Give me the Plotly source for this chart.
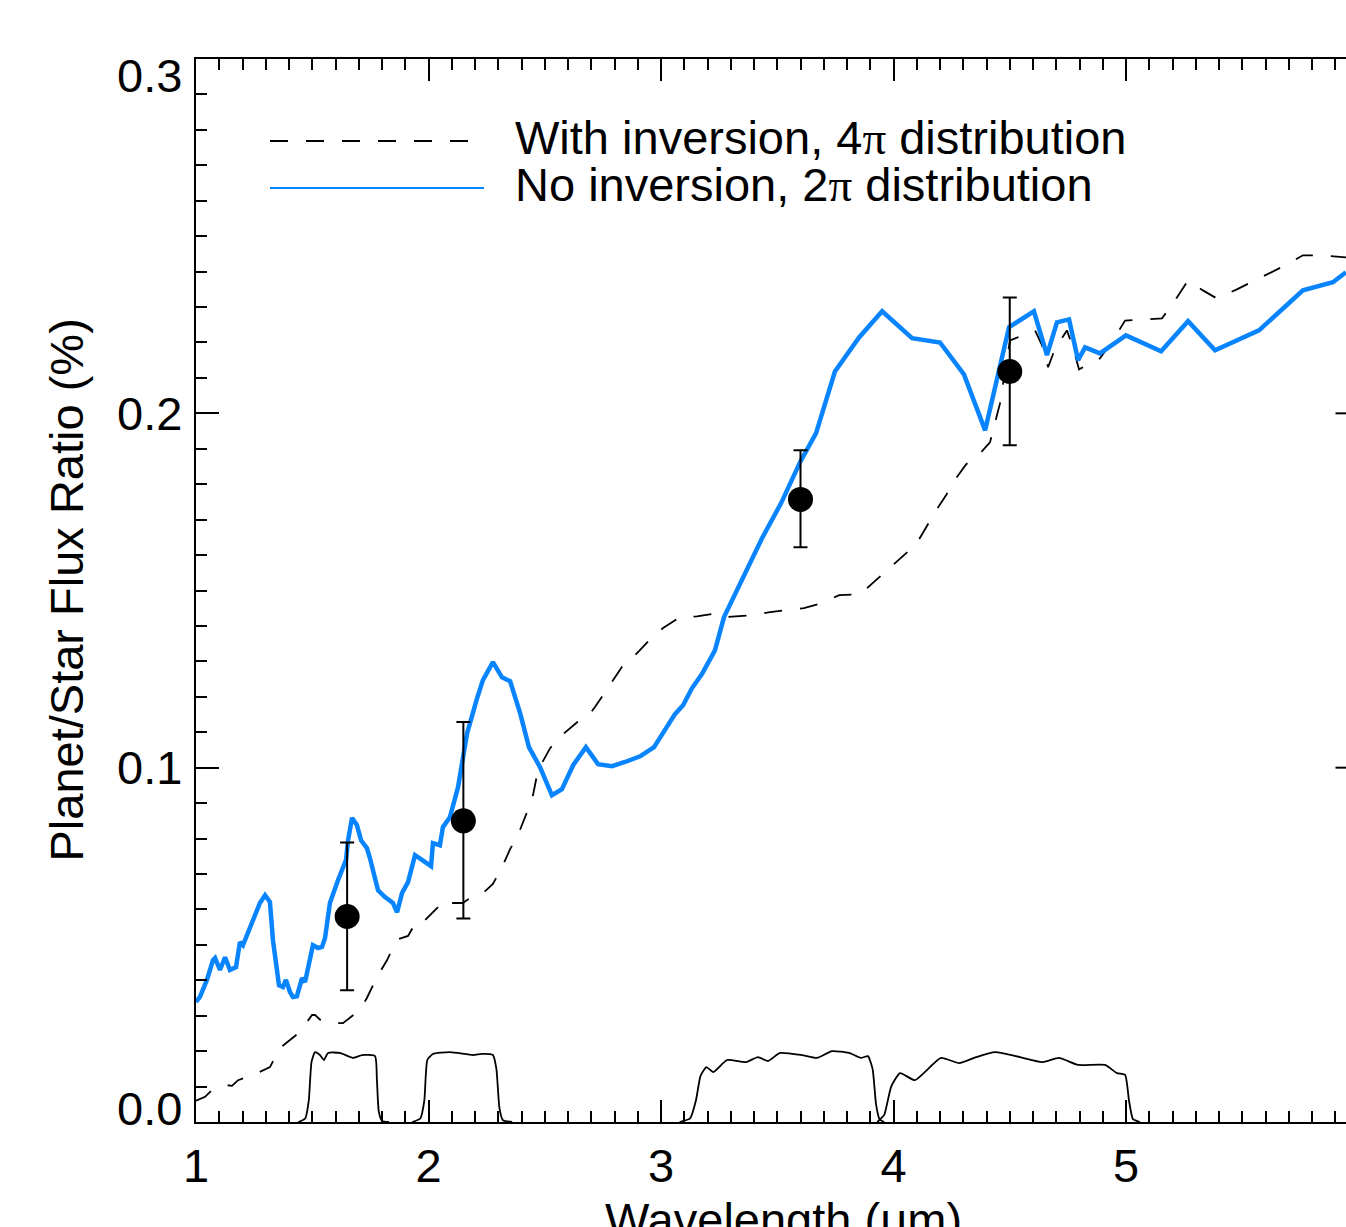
import plotly.graph_objects as go

# ---------------- data ----------------
blue_x = [1.000, 1.017, 1.047, 1.073, 1.082, 1.103, 1.125, 1.146, 1.172, 1.189, 1.202, 1.224,
          1.275, 1.297, 1.318, 1.331, 1.348, 1.357, 1.374, 1.387, 1.404, 1.417, 1.434, 1.456,
          1.469, 1.490, 1.503, 1.525, 1.542, 1.555, 1.576, 1.611, 1.632, 1.645, 1.654, 1.671,
          1.692, 1.710, 1.735, 1.748, 1.783, 1.813, 1.847, 1.865, 1.886, 1.912, 1.942, 1.985,
          2.011, 2.019, 2.049, 2.062, 2.092, 2.127, 2.148, 2.166, 2.209, 2.234, 2.277, 2.316,
          2.351, 2.394, 2.432, 2.480, 2.531, 2.574, 2.622, 2.677, 2.729, 2.789, 2.845, 2.910,
          2.970, 3.013, 3.060, 3.095, 3.133, 3.176, 3.232, 3.271, 3.353, 3.434, 3.516, 3.598,
          3.667, 3.748, 3.852, 3.951, 4.080, 4.200, 4.303, 4.394, 4.497, 4.604, 4.660, 4.703,
          4.755, 4.794, 4.824, 4.888, 5.000, 5.151, 5.267, 5.383, 5.572, 5.761, 5.890, 5.946]
blue_y = [0.0339, 0.0353, 0.0401, 0.0457, 0.0463, 0.0429, 0.0465, 0.0429, 0.0437, 0.0508, 0.0499, 0.0536,
          0.0618, 0.0640, 0.0621, 0.0513, 0.0437, 0.0386, 0.0381, 0.0401, 0.0367, 0.0353, 0.0355, 0.0406,
          0.0395, 0.0457, 0.0499, 0.0491, 0.0494, 0.0519, 0.0618, 0.0683, 0.0717, 0.0739, 0.0795, 0.0858,
          0.0838, 0.0795, 0.0773, 0.0745, 0.0654, 0.0635, 0.0618, 0.0592, 0.0646, 0.0677, 0.0753, 0.0733,
          0.0722, 0.0787, 0.0781, 0.0832, 0.0860, 0.0945, 0.1021, 0.1097, 0.1196, 0.1247, 0.1298, 0.1255,
          0.1244, 0.1154, 0.1058, 0.1001, 0.0922, 0.0939, 0.1007, 0.1058, 0.1010, 0.1004, 0.1016, 0.1032,
          0.1058, 0.1100, 0.1151, 0.1176, 0.1224, 0.1264, 0.1331, 0.1425, 0.1537, 0.1647, 0.1746, 0.1862,
          0.1944, 0.2118, 0.2214, 0.2288, 0.2212, 0.2200, 0.2110, 0.1952, 0.2243, 0.2288, 0.2164, 0.2257,
          0.2265, 0.2150, 0.2186, 0.2169, 0.2220, 0.2175, 0.2260, 0.2178, 0.2234, 0.2347, 0.2370, 0.2398]

dash_x = [1.000, 1.039, 1.069, 1.133, 1.155, 1.181, 1.254, 1.318, 1.361, 1.404, 1.447, 1.477,
          1.499, 1.512, 1.540, 1.572, 1.606, 1.632, 1.705, 1.735, 1.778, 1.822, 1.856, 1.869,
          1.912, 1.951, 1.985, 2.015, 2.049, 2.071, 2.084, 2.148, 2.178, 2.222, 2.277, 2.316,
          2.351, 2.385, 2.415, 2.445, 2.471, 2.523, 2.574, 2.639, 2.682, 2.716, 2.751, 2.794,
          2.837, 2.897, 2.961, 3.009, 3.082, 3.125, 3.155, 3.241, 3.284, 3.391, 3.469, 3.542,
          3.615, 3.692, 3.766, 3.856, 3.908, 3.976, 4.028, 4.097, 4.140, 4.183, 4.226, 4.269,
          4.312, 4.372, 4.415, 4.432, 4.458, 4.501, 4.544, 4.609, 4.639, 4.665, 4.695, 4.746,
          4.772, 4.798, 4.888, 4.944, 4.996, 5.155, 5.219, 5.267, 5.331, 5.391, 5.477, 5.619,
          5.692, 5.761, 5.834, 5.946]
dash_y = [0.0060, 0.0071, 0.0090, 0.0104, 0.0102, 0.0118, 0.0135, 0.0155, 0.0209, 0.0231, 0.0254, 0.0282,
          0.0302, 0.0302, 0.0285, 0.0279, 0.0279, 0.0279, 0.0316, 0.0350, 0.0409, 0.0457, 0.0505, 0.0516,
          0.0525, 0.0570, 0.0570, 0.0590, 0.0612, 0.0626, 0.0618, 0.0618, 0.0632, 0.0638, 0.0672, 0.0719,
          0.0770, 0.0810, 0.0860, 0.0908, 0.0993, 0.1055, 0.1092, 0.1128, 0.1142, 0.1171, 0.1205, 0.1247,
          0.1289, 0.1323, 0.1368, 0.1394, 0.1425, 0.1425, 0.1427, 0.1436, 0.1425, 0.1430, 0.1439, 0.1445,
          0.1450, 0.1464, 0.1487, 0.1489, 0.1520, 0.1560, 0.1591, 0.1630, 0.1678, 0.1726, 0.1769, 0.1817,
          0.1856, 0.1887, 0.1918, 0.1961, 0.2028, 0.2206, 0.2217, 0.2234, 0.2192, 0.2130, 0.2183, 0.2234,
          0.2186, 0.2124, 0.2155, 0.2206, 0.2262, 0.2268, 0.2327, 0.2375, 0.2347, 0.2324, 0.2350, 0.2395,
          0.2420, 0.2446, 0.2446, 0.2440]

obs_x = [1.65, 2.15, 3.6, 4.5]
obs_y = [0.058, 0.085, 0.1757, 0.2118]
obs_err_plus = [0.0209, 0.0279, 0.0139, 0.0209]
obs_err_minus = [0.0208, 0.0276, 0.0135, 0.0208]

filt_h_x = [1.440, 1.470, 1.485, 1.497, 1.512, 1.533, 1.550, 1.568, 1.619, 1.675, 1.714, 1.770, 1.778, 1.786, 1.800, 1.830]
filt_h_y = [0.0, 0.0010, 0.0060, 0.0170, 0.0197, 0.0189, 0.0175, 0.0195, 0.0195, 0.0181, 0.0189, 0.0186, 0.0120, 0.0030, 0.0003, 0.0]
filt_k_x = [1.930, 1.965, 1.982, 1.995, 2.019, 2.092, 2.191, 2.230, 2.277, 2.292, 2.305, 2.320, 2.360]
filt_k_y = [0.0, 0.0010, 0.0060, 0.0175, 0.0192, 0.0197, 0.0189, 0.0192, 0.0189, 0.0150, 0.0040, 0.0005, 0.0]
filt_36_x = [3.080, 3.125, 3.150, 3.170, 3.195, 3.225, 3.284, 3.366, 3.417, 3.460, 3.512, 3.606, 3.671, 3.735,
             3.809, 3.860, 3.890, 3.910, 3.925, 3.940, 3.960]
filt_36_y = [0.0, 0.0010, 0.0060, 0.0130, 0.0155, 0.0141, 0.0175, 0.0169, 0.0183, 0.0172, 0.0195, 0.0189, 0.0181, 0.0200,
             0.0195, 0.0181, 0.0186, 0.0150, 0.0050, 0.0008, 0.0]
filt_45_x = [3.930, 3.960, 3.990, 4.028, 4.092, 4.204, 4.282, 4.355, 4.437, 4.544, 4.639, 4.712, 4.794,
             4.910, 4.961, 4.996, 5.013, 5.030, 5.060]
filt_45_y = [0.0, 0.0020, 0.0100, 0.0138, 0.0118, 0.0181, 0.0166, 0.0183, 0.0197, 0.0183, 0.0169, 0.0181, 0.0161,
             0.0161, 0.0138, 0.0133, 0.0060, 0.0008, 0.0]

x_tick_vals = [1, 2, 3, 4, 5]
y_tick_vals = [0.0, 0.1, 0.2, 0.3]
y_tick_text = ["0.0", "0.1", "0.2", "0.3"]

legend_labels = ["With inversion, 4<span style=\"font-family:'Liberation Serif'\">π</span> distribution",
                 "No inversion, 2<span style=\"font-family:'Liberation Serif'\">π</span> distribution"]
x_title = "Wavelength (μm)"
y_title = "Planet/Star Flux Ratio (%)"

# ---------------- figure ----------------
BLUE = "rgb(8,132,255)"
FONT = "Liberation Sans, Arial, Helvetica, sans-serif"
FS = 47
W, H = 1346, 1227
ML, MT, MB = 196, 59, 105
PX_PER_UM = 232.5
x_max = 1 + (W - ML) / PX_PER_UM

fig = go.Figure()

for fx, fy in [(filt_h_x, filt_h_y), (filt_k_x, filt_k_y), (filt_36_x, filt_36_y), (filt_45_x, filt_45_y)]:
    fig.add_trace(go.Scatter(x=fx, y=fy, mode="lines",
                             line=dict(color="black", width=1.8, shape="spline", smoothing=0.5),
                             showlegend=False, hoverinfo="skip"))

fig.add_trace(go.Scatter(x=dash_x, y=dash_y, mode="lines", name="With inversion, 4π distribution",
                         line=dict(color="black", width=1.8, dash="18px,18px"), showlegend=False))
fig.add_trace(go.Scatter(x=blue_x, y=blue_y, mode="lines", name="No inversion, 2π distribution",
                         line=dict(color=BLUE, width=4.5), showlegend=False))
fig.add_trace(go.Scatter(x=obs_x, y=obs_y, mode="markers", name="Observed",
                         marker=dict(color="black", size=25),
                         error_y=dict(type="data", symmetric=False, array=obs_err_plus, arrayminus=obs_err_minus,
                                      color="black", thickness=2, width=7),
                         showlegend=False))

axis_common = dict(showline=True, linecolor="black", linewidth=2, ticks="inside", tickcolor="black",
                   tickwidth=2, showgrid=False, zeroline=False)

fig.update_xaxes(range=[1, x_max], tickvals=x_tick_vals, ticklen=22, mirror="allticks",
                 minor=dict(dtick=0.1, tick0=1, ticklen=11, tickwidth=1.5, ticks="inside", tickcolor="black"),
                 tickfont=dict(family=FONT, size=FS, color="black"), ticklabelstandoff=2,
                 **axis_common)
fig.update_yaxes(range=[0, 0.3], tickvals=y_tick_vals, ticklen=23, mirror=False, showticklabels=False,
                 minor=dict(dtick=0.01, tick0=0, ticklen=11, tickwidth=2, ticks="inside", tickcolor="black"),
                 **axis_common)

annotations = []
y_shifts = {0: 14, len(y_tick_vals) - 1: -16}
for i, (v, t) in enumerate(zip(y_tick_vals, y_tick_text)):
    annotations.append(dict(x=0, xref="paper", y=v, yref="y", text=t, showarrow=False, xanchor="right",
                            yanchor="middle", xshift=-12, yshift=y_shifts.get(i, 0),
                            font=dict(family=FONT, size=FS, color="black")))
plot_h = H - MT - MB
plot_w = W - ML
annotations.append(dict(x=(783 - ML) / plot_w, xref="paper", y=-(1219 - (H - MB)) / plot_h, yref="paper",
                        text=x_title, showarrow=False, xanchor="center", yanchor="middle",
                        font=dict(family=FONT, size=FS, color="black")))
annotations.append(dict(x=0, xref="paper", xshift=-130, y=0.5, yref="paper", text=y_title, textangle=-90,
                        showarrow=False, xanchor="center", yanchor="middle",
                        font=dict(family=FONT, size=FS, color="black")))
# manual legend
leg_rows = [(137, 141, "black", "18px,18px", 1.8, 270, 480), (184, 188, BLUE, "solid", 2, 270, 484)]
shapes = []
for (ty, ly, col, dsh, lw, lx0, lx1), lab in zip(leg_rows, legend_labels):
    shapes.append(dict(type="line", xref="paper", yref="paper",
                       x0=(lx0 - ML) / plot_w, x1=(lx1 - ML) / plot_w,
                       y0=((H - MB) - ly) / plot_h, y1=((H - MB) - ly) / plot_h,
                       line=dict(color=col, width=lw, dash=dsh)))
    annotations.append(dict(x=(513 - ML) / plot_w, xref="paper", y=((H - MB) - ty) / plot_h, yref="paper",
                            text=lab, showarrow=False, xanchor="left", yanchor="middle",
                            font=dict(family=FONT, size=FS, color="black")))
# right-axis major ticks (axis itself lies just beyond the visible area)
for v in y_tick_vals[1:-1]:
    shapes.append(dict(type="line", xref="x", yref="y", x0=6.0 - 23 / PX_PER_UM, x1=6.0, y0=v, y1=v,
                       line=dict(color="black", width=2)))

fig.update_layout(width=W, height=H, margin=dict(l=ML, r=0, t=MT, b=MB, pad=0),
                  paper_bgcolor="white", plot_bgcolor="white", showlegend=False,
                  annotations=annotations, shapes=shapes,
                  font=dict(family=FONT, size=FS, color="black"))

fig.write_html("out.html")
